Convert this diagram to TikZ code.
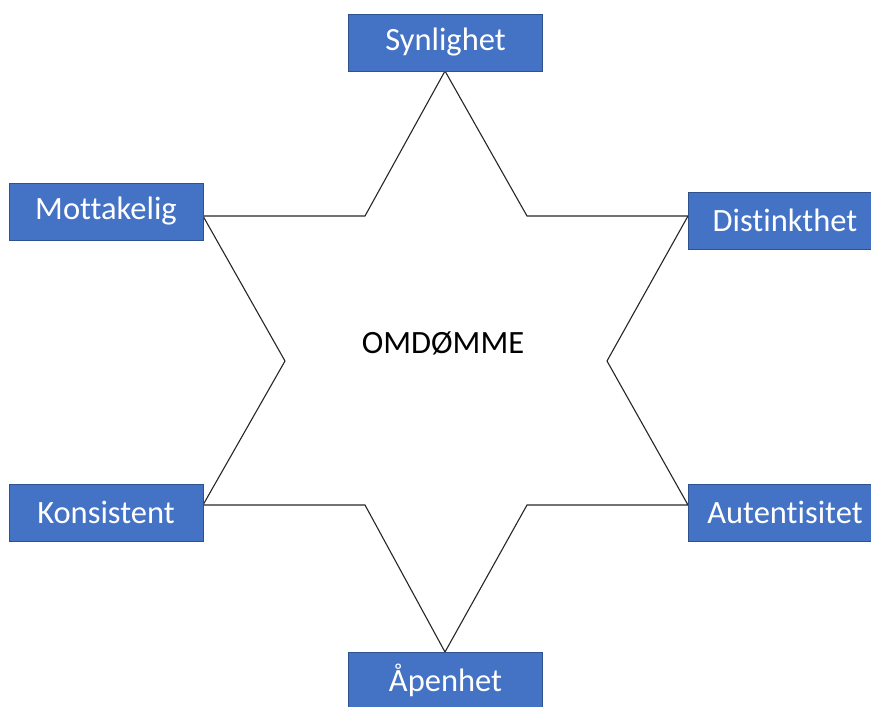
\documentclass[tikz,border=0pt]{standalone}
\usepackage{fontspec}
\setmainfont{Carlito}[Ligatures=NoCommon]
\definecolor{boxfill}{HTML}{4472C4}
\definecolor{boxline}{HTML}{2F528F}
\definecolor{starline}{HTML}{262626}
\tikzset{
  box/.style={draw=boxline, line width=0.8pt, fill=boxfill, text=white,
    minimum width=194pt, minimum height=57pt, inner sep=0pt,
    font=\fontsize{32.5}{36}\selectfont},
  starline/.style={draw=starline, line width=1.1pt, line join=miter}
}
\begin{document}
\begin{tikzpicture}[x=1pt,y=-1pt]
\useasboundingbox (0,0) rectangle (871,707);
% star vertices
\coordinate (pT) at (445,71);
\coordinate (i1) at (527,216);
\coordinate (pUR) at (688,216);
\coordinate (i2) at (607,361);
\coordinate (pLR) at (688,505);
\coordinate (i3) at (527,505);
\coordinate (pB) at (445,652);
\coordinate (i4) at (365,505);
\coordinate (pLL) at (203,505);
\coordinate (i5) at (285,361);
\coordinate (pUL) at (203,216);
\coordinate (i6) at (365,216);
\draw[starline] (pT) -- (i1) -- (pUR) -- (i2) -- (pLR) -- (i3) -- (pB) -- (i4) -- (pLL) -- (i5) -- (pUL) -- (i6) -- cycle;
% boxes
\node[box] (syn) at (445.5,42.5) {Synlighet};
\node[box] (mot) at (106,211.5) {Mottakelig};
\node[box] (dis) at (785,220.5) {Distinkthet};
\node[box] (kon) at (106,512.5) {Konsistent};
\node[box] (aut) at (785,512.5) {Autentisitet};
\node[box] (ape) at (445.5,680.5) {Åpenhet};
\node[font=\fontsize{32.5}{36}\selectfont, text=black] (omd) at (443,343) {OMDØMME};
\end{tikzpicture}
\end{document}
